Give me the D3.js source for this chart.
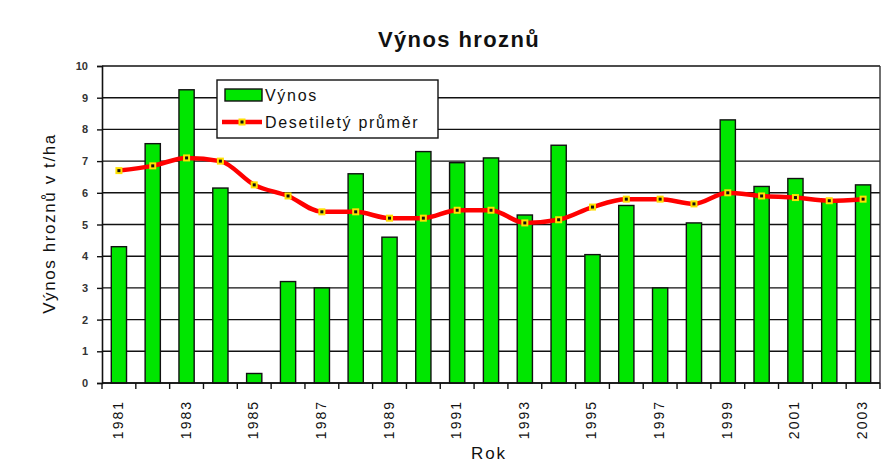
<!DOCTYPE html>
<html>
<head>
<meta charset="utf-8">
<script src="https://cdn.jsdelivr.net/npm/d3@7"></script>
<style>
  body { margin: 0; background: #fff; }
  text { font-family: Arial, "Liberation Sans", sans-serif; fill: #111; }
</style>
</head>
<body>
<svg width="896" height="465"></svg>
<script>
// data
const years = d3.range(1981, 2004).map(String);
const vynos = [4.3, 7.55, 9.25, 6.15, 0.3, 3.2, 3.0, 6.6, 4.6, 7.3, 6.95, 7.1, 5.3, 7.5, 4.05, 5.6, 3.0, 5.05, 8.3, 6.2, 6.45, 5.75, 6.25];
const prumer = [6.7, 6.85, 7.1, 7.0, 6.25, 5.9, 5.4, 5.4, 5.2, 5.2, 5.45, 5.45, 5.05, 5.15, 5.55, 5.8, 5.8, 5.65, 6.0, 5.9, 5.85, 5.75, 5.8];
const yTicks = d3.range(0, 11);

// layout
const svg = d3.select("svg");
const margin = {top: 66, right: 16, bottom: 82, left: 102};
const W = 896, H = 465;
const innerW = W - margin.left - margin.right,
      innerH = H - margin.top - margin.bottom;

const g = svg.append("g")
  .attr("transform", "translate(" + margin.left + "," + margin.top + ")");

const x = d3.scaleBand().domain(years).range([0, innerW]).paddingInner(0.55).paddingOuter(0.275);
const y = d3.scaleLinear().domain([0, 10]).range([innerH, 0]);

// gridlines
g.append("g").selectAll("line")
  .data(yTicks)
  .enter().append("line")
  .attr("x1", 0).attr("x2", innerW)
  .attr("y1", d => y(d)).attr("y2", d => y(d))
  .attr("stroke", "#111").attr("stroke-width", 1.4);

// right border
g.append("line")
  .attr("x1", innerW).attr("x2", innerW)
  .attr("y1", 0).attr("y2", innerH)
  .attr("stroke", "#333").attr("stroke-width", 1.4);

// bars
g.append("g").selectAll("rect")
  .data(vynos)
  .enter().append("rect")
  .attr("x", (d, i) => x(years[i]))
  .attr("y", d => y(d))
  .attr("width", x.bandwidth())
  .attr("height", d => innerH - y(d))
  .attr("fill", "#00e600")
  .attr("stroke", "#111")
  .attr("stroke-width", 1.4);

// y axis
const yAxis = g.append("g")
  .call(d3.axisLeft(y).tickValues(yTicks).tickSize(5).tickPadding(9));
yAxis.select(".domain").attr("stroke", "#111").attr("stroke-width", 1.6);
yAxis.selectAll(".tick line").attr("stroke", "#111").attr("stroke-width", 1.4);
yAxis.selectAll("text").attr("font-size", 11).attr("font-weight", "bold").style("fill", "#333");

// x axis: ticks at band boundaries
const step = x.step();
const xAxisG = g.append("g").attr("transform", "translate(0," + innerH + ")");
xAxisG.append("line")
  .attr("x1", 0).attr("x2", innerW)
  .attr("stroke", "#111").attr("stroke-width", 1.6);
xAxisG.selectAll(".tk")
  .data(d3.range(0, years.length + 1))
  .enter().append("line")
  .attr("x1", d => d * step).attr("x2", d => d * step)
  .attr("y1", 0).attr("y2", 6)
  .attr("stroke", "#111").attr("stroke-width", 1.4);
xAxisG.selectAll("text")
  .data(years.filter((d, i) => i % 2 === 0))
  .enter().append("text")
  .attr("transform", d => "translate(" + (x(d) + x.bandwidth() / 2 + 4) + ",17) rotate(-90)")
  .attr("text-anchor", "end")
  .attr("font-size", 14)
  .attr("letter-spacing", 2)
  .text(d => d);

// average line
const line = d3.line()
  .x((d, i) => x(years[i]) + x.bandwidth() / 2)
  .y(d => y(d))
  .curve(d3.curveMonotoneX);

g.append("path")
  .datum(prumer)
  .attr("d", line)
  .attr("fill", "none")
  .attr("stroke", "#ff0000")
  .attr("stroke-width", 4.5);

const mk = g.append("g").selectAll("g")
  .data(prumer)
  .enter().append("g")
  .attr("transform", (d, i) => "translate(" + (x(years[i]) + x.bandwidth() / 2) + "," + y(d) + ")");
mk.append("rect")
  .attr("x", -3.5).attr("y", -3.5).attr("width", 7).attr("height", 7)
  .attr("fill", "#ffe000");
mk.append("rect")
  .attr("x", -1.5).attr("y", -1.5).attr("width", 3).attr("height", 3)
  .attr("fill", "#111");

// titles
svg.append("text")
  .attr("x", 459).attr("y", 47)
  .attr("text-anchor", "middle")
  .attr("font-size", 22).attr("font-weight", "bold")
  .attr("letter-spacing", 1.4)
  .text("Výnos hroznů");

svg.append("text")
  .attr("transform", "translate(55," + (margin.top + innerH / 2 - 1) + ") rotate(-90)")
  .attr("text-anchor", "middle")
  .attr("font-size", 17)
  .attr("letter-spacing", 1.6)
  .text("Výnos hroznů v t/ha");

svg.append("text")
  .attr("x", 489).attr("y", 459)
  .attr("text-anchor", "middle")
  .attr("font-size", 17)
  .attr("letter-spacing", 2)
  .text("Rok");

// legend
const leg = svg.append("g").attr("transform", "translate(217,80)");
leg.append("rect")
  .attr("width", 221).attr("height", 58)
  .attr("fill", "#fff").attr("stroke", "#111").attr("stroke-width", 1.4);
leg.append("rect")
  .attr("x", 8).attr("y", 9).attr("width", 37).attr("height", 12)
  .attr("fill", "#00e600").attr("stroke", "#111").attr("stroke-width", 1.4);
leg.append("text")
  .attr("x", 48).attr("y", 21).attr("font-size", 16)
  .attr("letter-spacing", 1.7)
  .text("Výnos");
leg.append("line")
  .attr("x1", 5).attr("x2", 45).attr("y1", 42).attr("y2", 42)
  .attr("stroke", "#ff0000").attr("stroke-width", 4.5);
leg.append("rect")
  .attr("x", 21.5).attr("y", 38.5).attr("width", 7).attr("height", 7).attr("fill", "#ffe000");
leg.append("rect")
  .attr("x", 23.5).attr("y", 40.5).attr("width", 3).attr("height", 3).attr("fill", "#111");
leg.append("text")
  .attr("x", 48).attr("y", 48).attr("font-size", 16)
  .attr("letter-spacing", 1.7)
  .text("Desetiletý průměr");
</script>
</body>
</html>
